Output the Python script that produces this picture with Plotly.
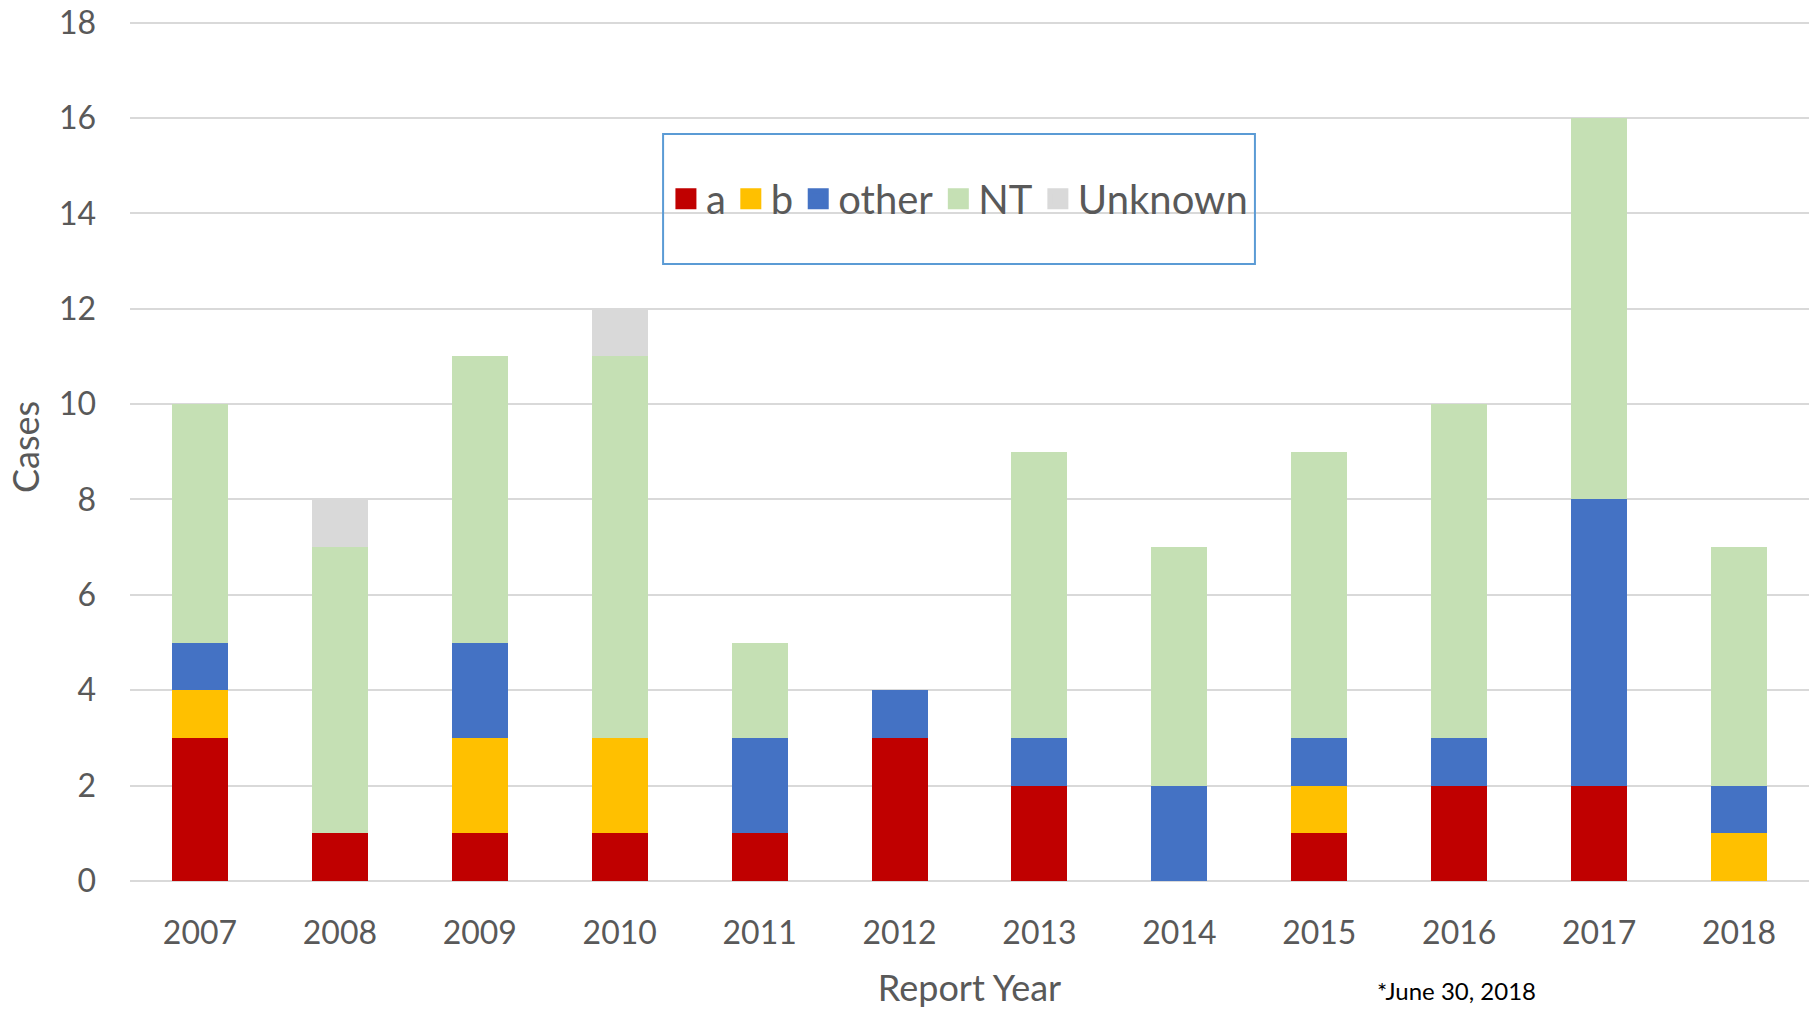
import plotly.graph_objects as go

years = ["2007", "2008", "2009", "2010", "2011", "2012", "2013", "2014", "2015", "2016", "2017", "2018"]
a_vals = [3, 1, 1, 1, 1, 3, 2, 0, 1, 2, 2, 0]
b_vals = [1, 0, 2, 2, 0, 0, 0, 0, 1, 0, 0, 1]
other_vals = [1, 0, 2, 0, 2, 1, 1, 2, 1, 1, 6, 1]
nt_vals = [5, 6, 6, 8, 2, 0, 6, 5, 6, 7, 8, 5]
unknown_vals = [0, 1, 0, 1, 0, 0, 0, 0, 0, 0, 0, 0]
y_ticks = [0, 2, 4, 6, 8, 10, 12, 14, 16, 18]

series = [
    ("a", a_vals, "#C00000"),
    ("b", b_vals, "#FFC000"),
    ("other", other_vals, "#4472C4"),
    ("NT", nt_vals, "#C5E0B4"),
    ("Unknown", unknown_vals, "#D9D9D9"),
]

FONT = "Lato"
GRAY = "#595959"

fig = go.Figure()
for name, vals, color in series:
    fig.add_trace(go.Bar(x=years, y=vals, name=name, marker=dict(color=color, line=dict(width=0)),
                         showlegend=False))
# legend entries with larger square symbols
for name, vals, color in series:
    fig.add_trace(go.Scatter(x=[None], y=[None], mode="markers", name=name,
                             marker=dict(symbol="square", size=24, color=color,
                                         line=dict(color=color, width=8))))

fig.update_layout(
    width=1816, height=1009,
    margin=dict(l=130, r=7, t=13, b=128, autoexpand=False),
    barmode="stack",
    bargap=0.6,
    plot_bgcolor="white",
    paper_bgcolor="white",
    font=dict(family=FONT, color=GRAY),
    legend=dict(
        orientation="h",
        traceorder="normal",
        x=0.494, y=0.786, xanchor="center", yanchor="middle",
        font=dict(size=40, color=GRAY, family=FONT),
        bgcolor="rgba(0,0,0,0)",
        borderwidth=0,
        itemsizing="trace",
        tracegroupgap=0,
    ),
    xaxis=dict(
        type="category",
        automargin=False,
        showgrid=False,
        showline=False,
        zeroline=False,
        ticks="",
        tickfont=dict(size=32, color=GRAY, family=FONT),
        ticklabelstandoff=30,
        title=dict(text="Report Year", font=dict(size=36, color=GRAY, family=FONT), standoff=26),
    ),
    yaxis=dict(
        range=[0, 18.2],
        automargin=False,
        tickvals=y_ticks,
        ticklabeloverflow="allow",
        showgrid=True,
        gridcolor="#D9D9D9",
        gridwidth=1.5,
        zeroline=True,
        zerolinecolor="#D9D9D9",
        zerolinewidth=1.5,
        showline=False,
        ticks="",
        tickfont=dict(size=32, color=GRAY, family=FONT),
        ticklabelstandoff=33,
        title=dict(text="Cases", font=dict(size=36, color=GRAY, family=FONT), standoff=8),
    ),
    shapes=[dict(type="rect", xref="paper", yref="paper",
                 x0=0.3175, x1=0.670, y0=0.7108, y1=0.8606,
                 line=dict(color="#5B9BD5", width=2), fillcolor="rgba(0,0,0,0)")],
    annotations=[dict(text="*June 30, 2018", xref="paper", yref="paper",
                      x=(1375 - 130) / 1679, y=-0.145, xanchor="left", yanchor="bottom",
                      showarrow=False, font=dict(size=24, color="black", family=FONT))],
)

fig.write_html("out.html",
               config={"displayModeBar": False},
               post_script="document.body.style.margin='0';document.body.style.overflow='hidden';")
